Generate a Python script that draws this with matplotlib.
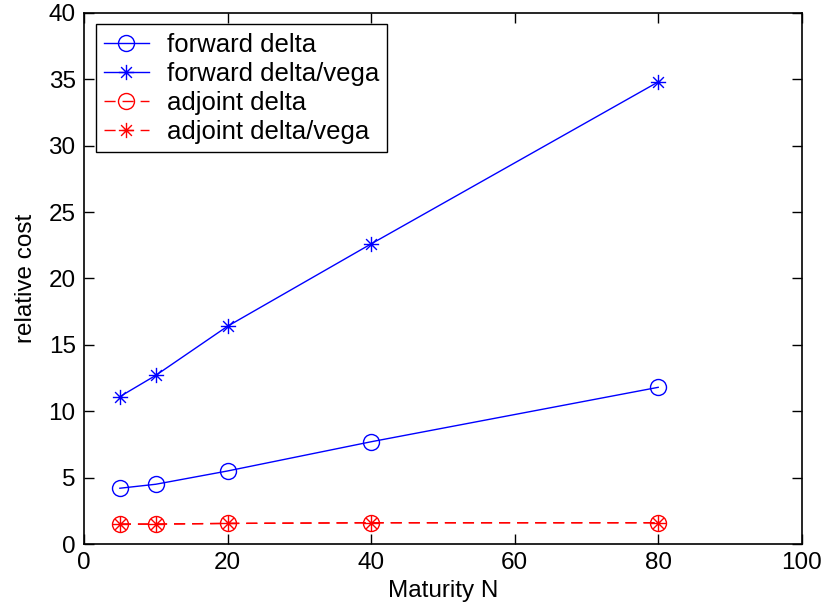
import matplotlib
matplotlib.use("Agg")
import matplotlib.pyplot as plt
from matplotlib.path import Path

plt.rcParams['font.family'] = ['Liberation Sans', 'DejaVu Sans']

maturity = [5, 10, 20, 40, 80]
forward_delta = [4.2, 4.5, 5.5, 7.7, 11.8]
forward_delta_vega = [11.1, 12.7, 16.4, 22.6, 34.8]
adjoint_delta = [1.5, 1.5, 1.55, 1.6, 1.6]
adjoint_delta_vega = [1.5, 1.5, 1.55, 1.6, 1.6]

labels = ['forward delta', 'forward delta/vega', 'adjoint delta', 'adjoint delta/vega']
xticks = [0, 20, 40, 60, 80, 100]
yticks = [0, 5, 10, 15, 20, 25, 30, 35, 40]

# MATLAB-style asterisk: + overlaid with x
d = 0.7071
star = Path(
    [(-1, 0), (1, 0), (0, -1), (0, 1), (-d, -d), (d, d), (-d, d), (d, -d)],
    [Path.MOVETO, Path.LINETO] * 4,
)

FS = 17.5
LFS = 18.5

fig = plt.figure(figsize=(8.25, 6.14), dpi=100)
ax = fig.add_axes([0.1018, 0.114, 0.870, 0.865])

blue = '#0000ff'
red = '#ff0000'
ax.plot(maturity, forward_delta, color=blue, lw=1.0, marker='o', ms=11.5,
        mfc='none', mec=blue, mew=1.0, label=labels[0])
ax.plot(maturity, forward_delta_vega, color=blue, lw=1.0, marker=star, ms=11,
        mfc='none', mec=blue, mew=1.0, label=labels[1])
ax.plot(maturity, adjoint_delta, color=red, lw=1.0, ls=(0, (8, 5)), marker='o', ms=11.5,
        mfc='none', mec=red, mew=1.0, label=labels[2])
ax.plot(maturity, adjoint_delta_vega, color=red, lw=1.0, ls=(0, (8, 5)), marker=star, ms=11,
        mfc='none', mec=red, mew=1.0, label=labels[3])

ax.set_xlim(0, 100)
ax.set_ylim(0, 40)
ax.set_xticks(xticks)
ax.set_yticks(yticks)
ax.tick_params(direction='in', top=True, right=True, labelsize=FS, length=7, width=1, pad=6)
for s in ax.spines.values():
    s.set_linewidth(1.2)
ax.set_xlabel('Maturity N', fontsize=FS, labelpad=4)
ax.set_ylabel('relative cost', fontsize=FS, labelpad=8)

leg = ax.legend(loc='upper left', fontsize=LFS, frameon=True, fancybox=False,
                edgecolor='black', framealpha=1, handlelength=1.75, borderpad=0.32,
                labelspacing=0.2, handletextpad=0.7, borderaxespad=0.45)
leg.get_frame().set_linewidth(1.0)

fig.savefig('out.png', dpi=100)
